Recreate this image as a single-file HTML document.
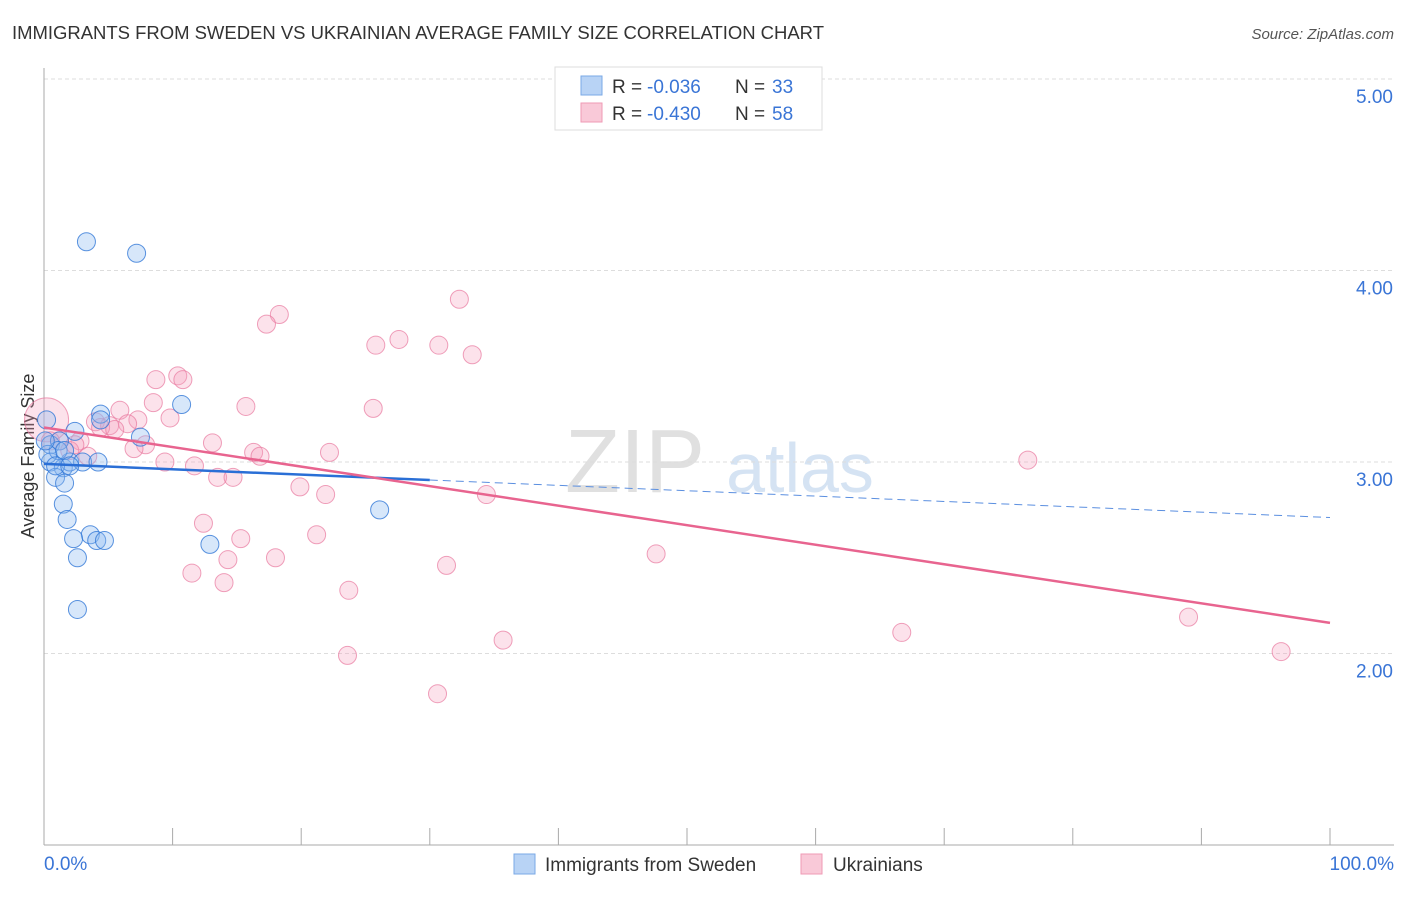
<!DOCTYPE html>
<html><head><meta charset="utf-8"><style>
body{margin:0;background:#fff;font-family:"Liberation Sans",sans-serif;}
svg text{font-family:"Liberation Sans",sans-serif;}
</style></head><body>
<svg id="c" width="1406" height="892">
<text x="12" y="39" font-size="18.5" fill="#333" textLength="812">IMMIGRANTS FROM SWEDEN VS UKRAINIAN AVERAGE FAMILY SIZE CORRELATION CHART</text>
<text x="1394" y="39" font-size="15" fill="#555" font-style="italic" text-anchor="end">Source: ZipAtlas.com</text>
<text x="34" y="456" font-size="18" fill="#333" text-anchor="middle" transform="rotate(-90 34 456)">Average Family Size</text>
<text x="635" y="492" font-size="90" fill="#e0e0e0" font-family="Liberation Serif" text-anchor="middle">ZIP</text>
<text x="800" y="492" font-size="70" fill="#d5e3f3" text-anchor="middle">atlas</text>
<g id="grid"></g><g id="axes"></g><g id="pts"></g><g id="lines"></g>
<g>
<rect x="555" y="67" width="267" height="63" fill="#fff" stroke="#ddd"/>
<rect x="581" y="76" width="21" height="19" fill="#b8d3f5" stroke="#7aa8e6"/>
<rect x="581" y="103" width="21" height="19" fill="#f9c9d8" stroke="#ef9ab5"/>
<text x="612" y="93" font-size="19" fill="#333">R =</text>
<text x="647" y="93" font-size="19" fill="#3a75d6">-0.036</text>
<text x="735" y="93" font-size="19" fill="#333">N =</text>
<text x="772" y="93" font-size="19" fill="#3a75d6">33</text>
<text x="612" y="120" font-size="19" fill="#333">R =</text>
<text x="647" y="120" font-size="19" fill="#3a75d6">-0.430</text>
<text x="735" y="120" font-size="19" fill="#333">N =</text>
<text x="772" y="120" font-size="19" fill="#3a75d6">58</text>
</g>
<g>
<rect x="514" y="854" width="21" height="20" fill="#b8d3f5" stroke="#7aa8e6"/>
<text x="545" y="871" font-size="19" fill="#333">Immigrants from Sweden</text>
<rect x="801" y="854" width="21" height="20" fill="#f9c9d8" stroke="#ef9ab5"/>
<text x="833" y="871" font-size="19" fill="#333">Ukrainians</text>
</g>
</svg>
<script>
const yTicks=[2,3,4,5];
const yTickLabels=["2.00","3.00","4.00","5.00"];
const xTickLabels=["0.0%","100.0%"];
const blueX=[3.3,7.2,10.7,4.4,7.5,2.4,0.2,0.5,1.2,0.5,1.5,2.0,3.0,4.2,0.9,1.6,1.5,1.8,3.6,2.3,4.1,4.7,12.9,2.6,2.6,26.1,1.1,0.3,1.6,0.9,2.0,4.4,0.1];
const blueY=[4.15,4.09,3.30,3.25,3.13,3.16,3.22,3.09,3.11,3.00,2.97,3.00,3.00,3.00,2.92,2.89,2.78,2.70,2.62,2.60,2.59,2.59,2.57,2.50,2.23,2.75,3.06,3.04,3.06,2.98,2.98,3.22,3.11];
const pinkX=[32.3,18.3,17.3,27.6,25.8,30.7,33.3,10.4,8.7,10.8,8.5,15.7,25.6,5.9,9.8,7.3,4.0,6.5,5.1,4.4,13.1,7.9,7.0,2.8,1.2,16.3,16.8,22.2,3.4,9.4,11.7,76.5,13.5,14.7,19.9,21.9,34.4,12.4,21.2,15.3,18.0,47.6,14.3,11.5,31.3,14.0,23.7,66.7,89.0,35.7,96.2,23.6,30.6,0.2,2.0,0.5,2.4,5.5];
const pinkY=[3.85,3.77,3.72,3.64,3.61,3.61,3.56,3.45,3.43,3.43,3.31,3.29,3.28,3.27,3.23,3.22,3.21,3.20,3.19,3.18,3.10,3.09,3.07,3.11,3.11,3.05,3.03,3.05,3.03,3.00,2.98,3.01,2.92,2.92,2.87,2.83,2.83,2.68,2.62,2.60,2.50,2.52,2.49,2.42,2.46,2.37,2.33,2.11,2.19,2.07,2.01,1.99,1.79,3.22,3.06,3.11,3.09,3.17];
const blueTrend=[2.99,2.71];
const pinkTrend=[3.18,2.16];
const NS="http://www.w3.org/2000/svg";
const X=p=>44+p*12.86, Y=v=>462-(v-3)*191.5;
function mk(parent,tag,attrs){const e=document.createElementNS(NS,tag);for(const k in attrs)e.setAttribute(k,attrs[k]);document.getElementById(parent).appendChild(e);return e;}
yTicks.forEach((v,i)=>{
 const g=mk('grid','line',{x1:44,x2:1394,y1:Y(v),y2:Y(v),stroke:'#ddd','stroke-dasharray':'4,3'});
 
 
 const t=mk('axes','text',{x:1393,y:Y(v)+24,'font-size':19,fill:'#3a75d6','text-anchor':'end'});t.textContent=yTickLabels[i];
 
 
});
const ax=mk('axes','line',{x1:44,x2:44,y1:68,y2:845,stroke:'#aaa'});


const bx=mk('axes','line',{x1:44,x2:1394,y1:845,y2:845,stroke:'#aaa'});


for(let i=0;i<=10;i++){const t=mk('axes','line',{x1:X(i*10),x2:X(i*10),y1:828,y2:845,stroke:'#aaa'});
 
 }
[[0,'start',44],[100,'end',1394]].forEach((a,i)=>{const t=mk('axes','text',{x:a[2],y:870,'font-size':19,fill:'#3a75d6','text-anchor':a[1]});t.textContent=xTickLabels[i];
 
 });
pinkX.forEach((x,i)=>{const c=mk('pts','circle',{cx:X(x),cy:Y(pinkY[i]),r:i==53?22:9,fill:'rgba(244,160,188,0.3)',stroke:'rgba(232,120,158,0.7)','stroke-width':1});
 
 });
blueX.forEach((x,i)=>{const c=mk('pts','circle',{cx:X(x),cy:Y(blueY[i]),r:9,fill:'rgba(140,185,240,0.35)',stroke:'rgba(50,120,215,0.8)','stroke-width':1});
 
 });
const bY=p=>blueTrend[0]+(blueTrend[1]-blueTrend[0])*p/100;
const l1=mk('lines','line',{x1:X(0),y1:Y(bY(0)),x2:X(30),y2:Y(bY(30)),stroke:'#2a6fd6','stroke-width':2.5});


const l2=mk('lines','line',{x1:X(30),y1:Y(bY(30)),x2:X(100),y2:Y(bY(100)),stroke:'#5b8fe0','stroke-width':1,'stroke-dasharray':'8,5'});


const l3=mk('lines','line',{x1:X(0),y1:Y(pinkTrend[0]),x2:X(100),y2:Y(pinkTrend[1]),stroke:'#e8648f','stroke-width':2.5});


</script>
</body></html>
